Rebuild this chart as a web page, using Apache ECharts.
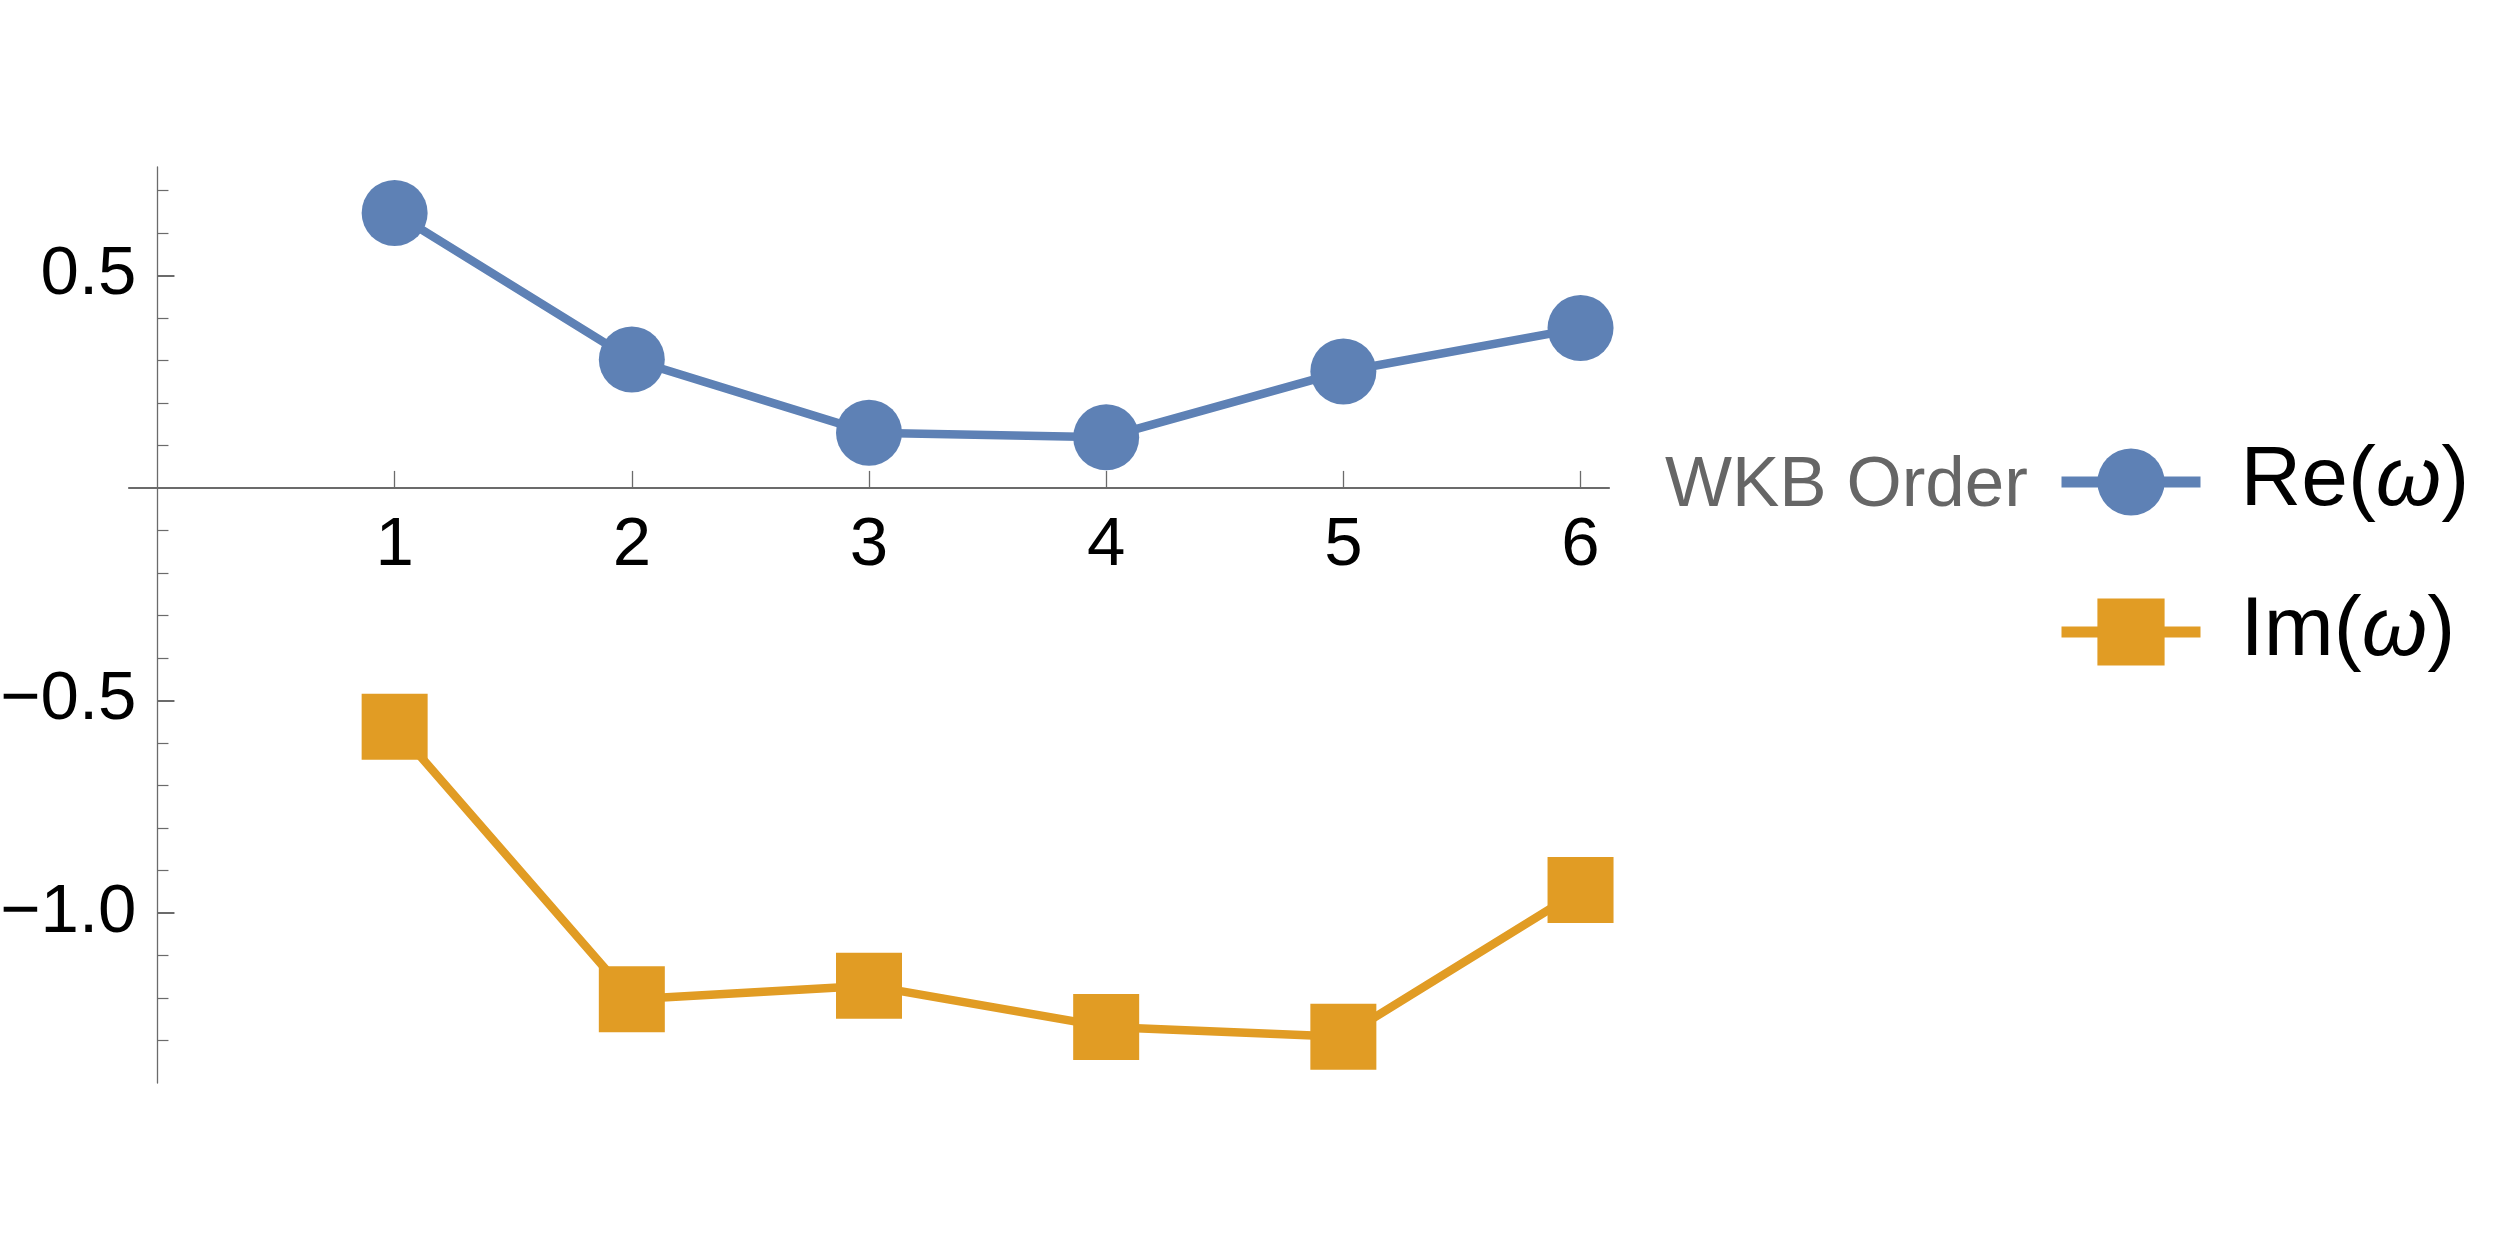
<!DOCTYPE html>
<html>
	<head>
		<meta charset="UTF-8">
		<title>WKB Order</title>
		<style>
			html, body { margin: 0; padding: 0; background: #fff; }
			#main { width: 2500px; height: 1249px; }
		</style>
	</head>
	<body>
		<div id="main"></div>
		<script type="text/javascript" src="https://cdn.jsdelivr.net/npm/echarts@6/dist/echarts.min.js"></script>
		<script>
			// WKB order on the x axis
			var orders = [1, 2, 3, 4, 5, 6];
			// Re(w) and Im(w)
			var reValues = [0.647, 0.302, 0.130, 0.119, 0.274, 0.376];
			var imValues = [-0.562, -1.203, -1.171, -1.268, -1.291, -0.946];

			// tick labels
			var yMajorTicks = [-1.0, -0.5, 0.5];
			var yMajorLabels = ['\u22121.0', '\u22120.5', '0.5'];
			var yMinorTicks = [-1.3, -1.2, -1.1, -0.9, -0.8, -0.7, -0.6, -0.4, -0.3, -0.2, -0.1, 0.1, 0.2, 0.3, 0.4, 0.6, 0.7];
			var xTicks = [1, 2, 3, 4, 5, 6];

			var seriesNames = ['Re(\u03c9)', 'Im(\u03c9)'];

			var font = 'Liberation Sans';
			var axisGray = '#6b6b6b';

			// plot box and ranges
			var gridLeft = 129, gridTop = 167, gridW = 1480, gridH = 916;
			var xMin = -0.12, xMax = 6.12, yMin = -1.4, yMax = 0.755;
			// the axes cross at the origin: shift them in from the grid edges
			var xAxisOffset = -(gridH * (0 - yMin) / (yMax - yMin));
			var yAxisOffset = -(gridW * (0 - xMin) / (xMax - xMin));

			function pairs(xs, ys) {
				var out = [];
				for (var i = 0; i < xs.length; i++) {
					out.push([xs[i], ys[i]]);
				}
				return out;
			}

			var chart = echarts.init(document.getElementById('main'), null, { renderer: 'canvas' });

			var option = {
				animation: false,
				backgroundColor: '#ffffff',
				title: {
					text: 'WKB Order',
					left: 1665,
					top: 451,
					padding: 0,
					textStyle: {
						fontFamily: font,
						fontSize: 71,
						lineHeight: 71,
						fontWeight: 'normal',
						color: '#666666'
					}
				},
				legend: {
					data: seriesNames,
					orient: 'vertical',
					left: 2056,
					top: 440,
					padding: 0,
					itemWidth: 139,
					itemHeight: 84,
					itemGap: 66,
					selectedMode: false,
					lineStyle: { width: 11 },
					formatter: function (name) {
						return name.replace('\u03c9', '{i|\u03c9}');
					},
					textStyle: {
						fontFamily: font,
						fontSize: 84,
						lineHeight: 84,
						color: '#000',
						padding: [0, 0, 0, 35],
						rich: {
							i: {
								fontFamily: font,
								fontSize: 84,
								lineHeight: 84,
								fontStyle: 'italic',
								color: '#000'
							}
						}
					}
				},
				grid: {
					left: gridLeft,
					top: gridTop,
					width: gridW,
					height: gridH,
					containLabel: false,
					outerBoundsMode: 'none'
				},
				xAxis: {
					type: 'value',
					position: 'bottom',
					offset: xAxisOffset,
					min: xMin,
					max: xMax,
					axisLine: {
						onZero: false,
						lineStyle: { color: axisGray, width: 2.2 }
					},
					axisTick: {
						inside: true,
						length: 17,
						customValues: xTicks,
						lineStyle: { color: axisGray, width: 1.3 }
					},
					axisLabel: {
						customValues: xTicks,
						margin: 24,
						fontFamily: font,
						fontSize: 69,
						lineHeight: 69,
						color: '#000'
					},
					splitLine: { show: false }
				},
				yAxis: [{
					type: 'value',
					position: 'left',
					offset: yAxisOffset,
					min: yMin,
					max: yMax,
					axisLine: {
						show: true,
						onZero: false,
						lineStyle: { color: axisGray, width: 1.3 }
					},
					axisTick: {
						inside: true,
						length: 17,
						customValues: yMajorTicks,
						lineStyle: { color: axisGray, width: 2 }
					},
					axisLabel: {
						customValues: yMajorTicks,
						margin: 21,
						fontFamily: font,
						fontSize: 69,
						color: '#000',
						formatter: function (v) {
							var i = yMajorTicks.indexOf(v);
							return i >= 0 ? yMajorLabels[i] : '';
						}
					},
					splitLine: { show: false }
				}, {
					// minor ticks only
					type: 'value',
					position: 'left',
					offset: yAxisOffset,
					min: yMin,
					max: yMax,
					axisLine: {
						show: false,
						onZero: false
					},
					axisTick: {
						inside: true,
						length: 11,
						customValues: yMinorTicks,
						lineStyle: { color: axisGray, width: 1.2 }
					},
					axisLabel: { show: false },
					splitLine: { show: false }
				}],
				series: [{
					name: seriesNames[0],
					type: 'line',
					data: pairs(orders, reValues),
					symbol: 'circle',
					symbolSize: 66,
					color: '#5E81B5',
					lineStyle: { width: 8.5, color: '#5E81B5' },
					itemStyle: { color: '#5E81B5' }
				}, {
					name: seriesNames[1],
					type: 'line',
					data: pairs(orders, imValues),
					symbol: 'rect',
					symbolSize: 66,
					color: '#E19C24',
					lineStyle: { width: 8.5, color: '#E19C24' },
					itemStyle: { color: '#E19C24' }
				}]
			};

			chart.setOption(option);
		</script>
	</body>
</html>
